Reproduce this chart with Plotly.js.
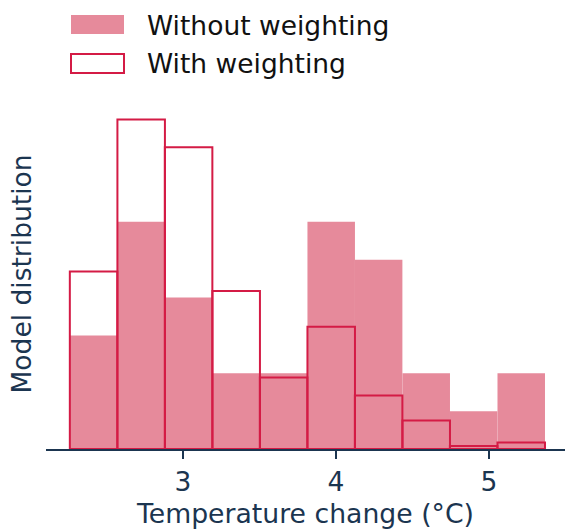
<!DOCTYPE html>
<html>
<head>
<meta charset="utf-8">
<script src="https://cdn.plot.ly/plotly-3.0.1.min.js"></script>
<style>html,body{margin:0;padding:0;background:#fff;}#chart{width:565px;height:529px;}</style>
</head>
<body>
<div id="chart"></div>
<script>
// Bin centres (°C) and bin width
const binCenters = [2.416, 2.727, 3.037, 3.348, 3.658, 3.969, 4.279, 4.590, 4.900, 5.211];
const binWidth = 0.3105;
// Model counts without weighting
const withoutWeighting = [3, 6, 4, 2, 2, 6, 5, 2, 1, 2];
// Weighted model distribution
const withWeighting = [4.69, 8.70, 7.97, 4.17, 1.89, 3.23, 1.41, 0.75, 0.08, 0.17];
const seriesNames = ["Without weighting", "With weighting"];
const tickVals = [3, 4, 5];
const tickText = ["3", "4", "5"];
const xTitle = "Temperature change (°C)";
const yTitle = "Model distribution";

const fillColor = "#e68a9b";
const edgeColor = "#d41b45";
const axisColor = "#1b3550";
const font = "DejaVu Sans, sans-serif";

const traces = [
  {
    type: "bar", x: binCenters, y: withoutWeighting, width: binWidth,
    name: seriesNames[0],
    marker: {color: fillColor, line: {width: 0}},
    showlegend: false, hoverinfo: "skip"
  },
  {
    type: "bar", x: binCenters, y: withWeighting, width: binWidth,
    name: seriesNames[1],
    marker: {color: "rgba(0,0,0,0)", line: {color: edgeColor, width: 2}},
    showlegend: false, hoverinfo: "skip"
  }
];

const layout = {
  width: 565, height: 529,
  margin: {l: 46, r: 0, t: 100, b: 80},
  paper_bgcolor: "#fff", plot_bgcolor: "#fff",
  barmode: "overlay",
  font: {family: font, size: 26, color: axisColor},
  xaxis: {
    range: [2.105, 5.497],
    tickvals: tickVals, ticktext: tickText,
    ticks: "outside", ticklen: 8, tickwidth: 2, tickcolor: axisColor,
    showline: true, linecolor: axisColor, linewidth: 2,
    showgrid: false, zeroline: false,
    tickfont: {family: font, size: 26.5, color: axisColor},
    title: {text: xTitle, font: {family: font, size: 26.7, color: axisColor}, standoff: 9}
  },
  yaxis: {
    range: [0, 9.216],
    showticklabels: false, ticks: "", showline: false, showgrid: false, zeroline: false
  },
  shapes: [
    {type: "rect", xref: "paper", yref: "paper",
     x0: (71-46)/519, x1: (124-46)/519, y0: (449.3-34)/349.3, y1: (449.3-15)/349.3,
     fillcolor: fillColor, line: {width: 0}},
    {type: "rect", xref: "paper", yref: "paper",
     x0: (71-46)/519, x1: (124-46)/519, y0: (449.3-73)/349.3, y1: (449.3-54)/349.3,
     fillcolor: "rgba(0,0,0,0)", line: {color: edgeColor, width: 2}}
  ],
  annotations: [
    {xref: "paper", yref: "paper", x: (145-46)/519, y: (449.3-25)/349.3,
     xanchor: "left", yanchor: "middle", showarrow: false, text: seriesNames[0],
     font: {family: font, size: 26.5, color: "#111"}},
    {xref: "paper", yref: "paper", x: (145-46)/519, y: (449.3-63)/349.3,
     xanchor: "left", yanchor: "middle", showarrow: false, text: seriesNames[1],
     font: {family: font, size: 26.5, color: "#111"}},
    {xref: "paper", yref: "paper", x: (21-46)/519, y: 0.5,
     xanchor: "center", yanchor: "middle", showarrow: false, textangle: -90, text: yTitle,
     font: {family: font, size: 26.5, color: axisColor}}
  ]
};

Plotly.newPlot("chart", traces, layout, {displayModeBar: false, staticPlot: true});
</script>
</body>
</html>
